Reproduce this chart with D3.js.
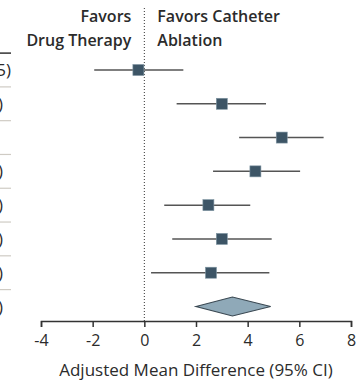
<!DOCTYPE html>
<html>
<head>
	<script src="https://d3js.org/d3.v7.min.js"></script>
	<meta charset="UTF-8">
	<style>
		body{ margin: 0; background-color: #ffffff; }
		text{ font-family: "Open Sans", sans-serif; fill: #2b2b2b; }
	</style>
</head>
<body>
	<script type="text/javascript">
		// rows of the forest plot (top to bottom), last one is the pooled estimate
		var rowIds = ["r1", "r2", "r3", "r4", "r5", "r6", "r7", "overall"];
		var tails  = ["5)", ")", "", ")", ")", ")", ")", ")"];
		var est    = [-0.23, 3.0, 5.32, 4.30, 2.48, 3.0, 2.58, 3.41];
		var lower  = [-1.94, 1.25, 3.67, 2.66, 0.77, 1.08, 0.26, 2.0];
		var upper  = [1.51, 4.71, 6.94, 6.03, 4.10, 4.93, 4.84, 4.89];
		var xTicks = [-4, -2, 0, 2, 4, 6, 8];

		var w = 357, h = 382;
		var svg = d3.select("body").append("svg").attr("width", w).attr("height", h);

		var x = d3.scaleLinear().domain([-4, 8]).range([41, 351]);
		var y = d3.scalePoint().domain(rowIds).range([70, 306.5]);
		var step = y.step();

		//left table edge (cut off)
		svg.append("line").attr("x1", 0).attr("x2", 11)
			.attr("y1", y("r1") - step / 2).attr("y2", y("r1") - step / 2)
			.attr("stroke", "#333").attr("stroke-width", 1.5);
		rowIds.slice(1).forEach(function(id){
			svg.append("line").attr("x1", 0).attr("x2", 11)
				.attr("y1", y(id) - step / 2).attr("y2", y(id) - step / 2)
				.attr("stroke", "#cfcbc4").attr("stroke-width", 1.2);
		});
		rowIds.forEach(function(id, i){
			svg.append("text").attr("x", i == 0 ? 11 : 3).attr("y", y(id)).attr("dy", "0.36em")
				.attr("text-anchor", "end").style("font-size", "17px").text(tails[i]);
		});

		//null line
		svg.append("line").attr("x1", x(0)).attr("x2", x(0)).attr("y1", 8).attr("y2", 321)
			.attr("stroke", "#333").attr("stroke-width", 1).attr("stroke-dasharray", "1,2");

		//header
		var hx = x(0);
		svg.append("text").attr("x", hx - 13).attr("y", 22).attr("text-anchor", "end")
			.style("font-size", "16px").style("font-weight", 600).text("Favors");
		svg.append("text").attr("x", hx - 13).attr("y", 46).attr("text-anchor", "end")
			.style("font-size", "16px").style("font-weight", 600).text("Drug Therapy");
		svg.append("text").attr("x", hx + 13).attr("y", 22)
			.style("font-size", "16px").style("font-weight", 600).text("Favors Catheter");
		svg.append("text").attr("x", hx + 13).attr("y", 46)
			.style("font-size", "16px").style("font-weight", 600).text("Ablation");

		//study rows
		var studies = rowIds.slice(0, 7);
		studies.forEach(function(id, i){
			svg.append("line").attr("x1", x(lower[i])).attr("x2", x(upper[i]))
				.attr("y1", y(id)).attr("y2", y(id))
				.attr("stroke", "#555").attr("stroke-width", 1.5);
			svg.append("rect").attr("x", x(est[i]) - 5.5).attr("y", y(id) - 5.5)
				.attr("width", 11).attr("height", 11)
				.attr("fill", "#3d5566").attr("stroke", "#7f95a2").attr("stroke-width", 0.6);
		});

		//pooled diamond
		var k = 7, yc = y("overall");
		svg.append("path")
			.attr("d", "M" + x(lower[k]) + "," + yc + "L" + x(est[k]) + "," + (yc - 9.5)
				+ "L" + x(upper[k]) + "," + yc + "L" + x(est[k]) + "," + (yc + 9.5) + "Z")
			.attr("fill", "#8fa9b8").attr("stroke", "#3a4852").attr("stroke-width", 1.2);

		//axis
		var xAxis = d3.axisBottom(x).tickValues(xTicks).tickSize(6).tickPadding(8)
			.tickFormat(function(d){ return String(d); });
		var gx = svg.append("g").attr("transform", "translate(0,321)").call(xAxis);
		gx.select(".domain").attr("stroke", "#333").attr("stroke-width", 1.5);
		gx.selectAll(".tick line").attr("stroke", "#333").attr("stroke-width", 1.5);
		gx.selectAll(".tick text").style("font-size", "16px").style("font-family", "Open Sans")
			.attr("fill", "#2b2b2b");

		svg.append("text").attr("x", 196).attr("y", 376).attr("text-anchor", "middle")
			.style("font-size", "17px").text("Adjusted Mean Difference (95% CI)");
	</script>
</body>
</html>
